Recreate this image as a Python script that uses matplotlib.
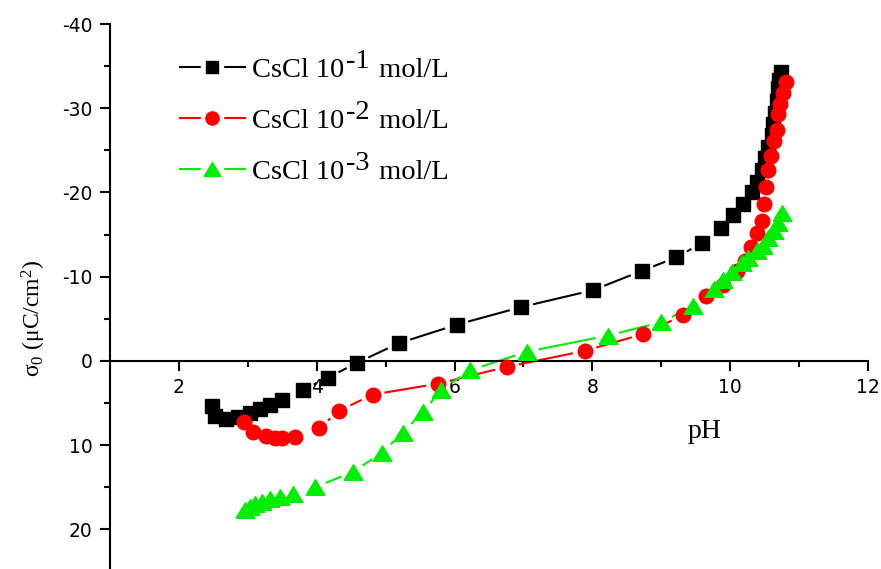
import numpy as np
import matplotlib
matplotlib.use("Agg")
import matplotlib.pyplot as plt
from matplotlib.lines import Line2D
from matplotlib.legend_handler import HandlerTuple

plt.rcParams["axes.unicode_minus"] = False
plt.rcParams["mathtext.fontset"] = "custom"
plt.rcParams["mathtext.rm"] = "Liberation Serif"
plt.rcParams["mathtext.it"] = "Liberation Serif:italic"

# Surface charge density vs pH for three CsCl concentrations
ph_1 = [2.48, 2.52, 2.69, 2.86, 3.03, 3.18, 3.32, 3.49, 3.80, 4.16, 4.59, 5.19,
        6.03, 6.97, 8.01, 8.72, 9.22, 9.59, 9.86, 10.04, 10.19, 10.32, 10.39,
        10.46, 10.51, 10.55, 10.60, 10.62, 10.65, 10.68, 10.70, 10.71, 10.74]
sigma_1 = [5.3, 6.5, 6.9, 6.7, 6.2, 5.7, 5.2, 4.6, 3.4, 2.0, 0.2, -2.1,
           -4.3, -6.4, -8.4, -10.7, -12.3, -14.0, -15.8, -17.3, -18.6, -20.0, -21.3,
           -22.7, -24.1, -25.4, -26.8, -28.1, -29.4, -30.9, -32.4, -33.4, -34.3]

ph_2 = [2.94, 3.08, 3.26, 3.40, 3.49, 3.69, 4.03, 4.33, 4.81, 5.76, 6.76,
        7.89, 8.74, 9.31, 9.65, 9.90, 10.10, 10.22, 10.30, 10.39, 10.46, 10.49,
        10.52, 10.55, 10.59, 10.63, 10.68, 10.69, 10.72, 10.77, 10.81]
sigma_2 = [7.2, 8.4, 8.9, 9.1, 9.1, 9.0, 8.0, 5.9, 4.0, 2.7, 0.7,
           -1.2, -3.2, -5.4, -7.7, -9.0, -10.7, -11.9, -13.5, -15.2, -16.6, -18.6,
           -20.6, -22.7, -24.3, -26.1, -27.4, -29.3, -30.5, -31.8, -33.1]

ph_3 = [2.96, 3.03, 3.10, 3.20, 3.32, 3.47, 3.66, 3.97, 4.52, 4.95, 5.25,
        5.54, 5.81, 6.23, 7.05, 8.22, 9.00, 9.46, 9.76, 9.90, 10.02, 10.17,
        10.26, 10.39, 10.48, 10.55, 10.63, 10.70, 10.75]
sigma_3 = [17.7, 17.3, 17.0, 16.7, 16.4, 16.1, 15.8, 15.0, 13.2, 10.9, 8.5,
           6.1, 3.4, 1.1, -1.1, -3.0, -4.6, -6.5, -8.5, -9.6, -10.6, -11.6,
           -12.2, -13.0, -13.6, -14.6, -15.4, -16.4, -17.6]

exponents = ["-1", "-2", "-3"]
label_prefix = "CsCl 10"
label_suffix = " mol/L"
colors = ["black", "#ff0000", "#00ee00"]

tri = [(-1.2, -1.0), (1.2, -1.0), (0.0, 1.0), (-1.2, -1.0)]
markers = ["s", "o", tri]
marker_sizes = [9.5, 10.5, 13.5]
legend_marker_sizes = [8.5, 9.5, 12.0]

fig = plt.figure(figsize=(8.81, 5.69), dpi=100)
ax = fig.add_axes([110 / 881, 0.0, 758 / 881, 545 / 569])
ax.set_xlim(1, 12)
ax.set_ylim(24.7, -40)

for s in ("top", "right"):
    ax.spines[s].set_visible(False)
ax.spines["bottom"].set_position(("data", 0))
for s in ("left", "bottom"):
    ax.spines[s].set_linewidth(1.5)

ax.set_xticks([2, 4, 6, 8, 10, 12])
ax.set_xticks([3, 5, 7, 9, 11], minor=True)
ax.set_yticks([-40, -30, -20, -10, 0, 10, 20])
ax.set_yticks([-35, -25, -15, -5, 5, 15], minor=True)
ax.tick_params(which="major", direction="out", length=7.5, width=1.5,
               labelsize=13.5, pad=5)
ax.tick_params(which="minor", direction="out", length=4, width=1.5)


def gapped(x, y, gap_px=12.0):
    """Connecting segments with a gap left around every marker."""
    pts = ax.transData.transform(np.column_stack([x, y]))
    out = []
    for p0, p1 in zip(pts[:-1], pts[1:]):
        d = p1 - p0
        L = np.hypot(*d)
        if L > 2 * gap_px + 1:
            u = d / L
            out += [p0 + u * gap_px, p1 - u * gap_px, [np.nan, np.nan]]
    if not out:
        return [], []
    seg = ax.transData.inverted().transform(np.array(out))
    return seg[:, 0], seg[:, 1]


series = [(ph_1, sigma_1), (ph_2, sigma_2), (ph_3, sigma_3)]
for (px, py), c in zip(series, colors):
    gx, gy = gapped(px, py)
    ax.plot(gx, gy, color=c, lw=1.5, zorder=2, solid_capstyle="butt")
for (px, py), c, m, ms in zip(series, colors, markers, marker_sizes):
    ax.plot(px, py, ls="none", marker=m, ms=ms, color=c, mec=c, zorder=3,
            clip_on=False)

handles = []
for c, m, ms in zip(colors, markers, legend_marker_sizes):
    handles.append((
        Line2D([], [], color=c, lw=1.5),
        Line2D([], [], ls="none", marker="s", ms=16, mfc="white", mec="white"),
        Line2D([], [], ls="none", marker=m, ms=ms, color=c, mec=c),
    ))
leg = ax.legend(handles, [label_prefix] * 3, loc="upper left",
                bbox_to_anchor=(180 / 881, 0.900), bbox_transform=fig.transFigure,
                frameon=False, borderpad=0, borderaxespad=0, handlelength=2.27,
                handletextpad=0.25, labelspacing=0.88,
                prop={"family": "Liberation Serif", "size": 20.5},
                handler_map={tuple: HandlerTuple(ndivide=1)})

for txt, exp in zip(leg.get_texts(), exponents):
    sup = ax.annotate(exp, xy=(1, 0), xycoords=txt, xytext=(1.5, 6.5),
                      textcoords="offset points", ha="left", va="bottom",
                      fontfamily="Liberation Serif", fontsize=20.5, zorder=10)
    ax.annotate(label_suffix, xy=(1, 0), xycoords=sup, xytext=(2, -6.5),
                textcoords="offset points", ha="left", va="bottom",
                fontfamily="Liberation Serif", fontsize=20.5, zorder=10)

ax.set_xlabel("pH", fontfamily="Liberation Serif", fontsize=20, va="baseline")
ax.xaxis.set_label_coords(0.785, 0.2404)
ax.set_ylabel("σ$_0$ (μC/cm$^2$)", fontfamily="Liberation Serif", fontsize=17,
              va="center")
ax.yaxis.set_label_coords(-0.100, 0.4606)

fig.savefig("out.png", dpi=100)
